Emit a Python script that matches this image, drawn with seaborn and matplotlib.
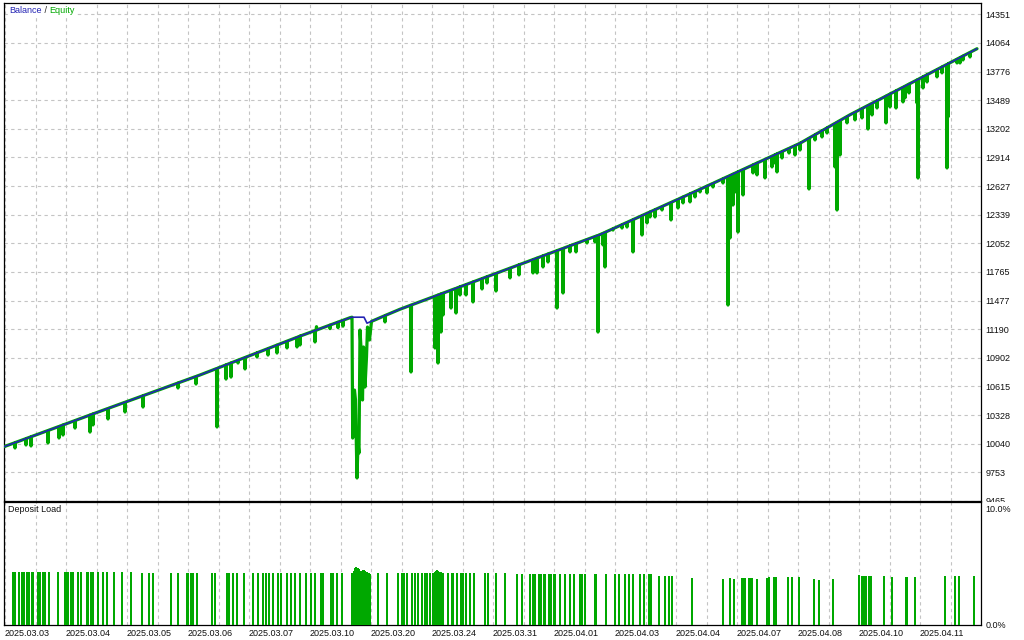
import numpy as np
import pandas as pd
import matplotlib
matplotlib.use("Agg")
import matplotlib.pyplot as plt
import seaborn as sns
from matplotlib.patches import Rectangle
from matplotlib.offsetbox import TextArea, HPacker, AnchoredOffsetbox

# ---------------- data (x = trade sequence position) ----------------
balance_x = [4, 100, 200, 300, 350, 352, 364, 367, 400, 500, 600, 700, 800, 850, 900, 950, 977]
balance_v = [10010, 10365, 10730, 11120, 11305, 11310, 11310, 11250, 11390, 11765,
             12139, 12594, 13056, 13342, 13603, 13864, 14005]

dip_x = [15, 26, 31, 48, 59, 63, 75, 90, 93, 108, 125, 143, 178, 196,
         217, 226, 231, 238, 245, 257, 268, 277, 287, 297, 300, 315, 316.5, 330, 338, 343,
         385, 411, 435, 438, 441, 443, 451, 456, 460, 466, 473, 482, 487, 496, 510, 519,
         533, 537, 543, 548, 557, 563, 570, 576, 587, 595, 598,
         603, 605, 613, 622, 627, 633, 642, 647, 650, 655, 662, 671, 678, 683, 690, 695,
         700, 707, 713, 723, 728, 730, 733, 735, 738, 743, 753, 757, 765, 772, 775, 777,
         782, 789, 795, 800, 809, 815, 822, 827, 835, 837, 840, 847, 855, 862, 868, 872,
         877, 886, 890, 896, 903, 905, 909, 917, 918, 923, 927, 937, 942, 947, 948, 957,
         960, 963, 970]
dip_v = [9997, 10027, 10017, 10047, 10097, 10127, 10197, 10157, 10228, 10288, 10358, 10408, 10599, 10639,
         10208, 10689, 10709, 10850, 10790, 10910, 10930, 10950, 11001, 11011, 11031, 11061, 11215, 11195, 11205, 11220,
         11262, 10760, 11001, 10850, 11161, 11332, 11402, 11352, 11533, 11533, 11463, 11593, 11653, 11573, 11704, 11734,
         11754, 11754, 11814, 11864, 11402, 11553, 11965, 11965, 12055, 12065, 11161,
         12035, 11814, 12185, 12205, 12215, 11965, 12135, 12256, 12316, 12316, 12386, 12286, 12406, 12457, 12467, 12517,
         12567, 12557, 12617, 12657, 11432, 12105, 12436, 12567, 12165, 12537, 12758, 12738, 12708, 12818, 12858, 12768,
         12908, 12958, 12938, 12988, 12597, 13089, 13119, 13159, 12818, 12386, 12938, 13260, 13290, 13310, 13199, 13340,
         13410, 13260, 13420, 13410, 13471, 13511, 13561, 13460, 12707, 13611, 13671, 13722, 13762, 12808, 13320, 13862,
         13862, 13892, 13922]

# drawdown cluster around 2025.03.10
cluster_x = [352.0, 352.7, 353.5, 354.5, 355.5, 357.0, 358.0, 359.0, 360.0, 361.0,
             362.5, 363.5, 365.0, 366.5, 367.5, 369.5, 371.5]
cluster_v = [11310, 10097, 10529, 10579, 10479, 9696, 10047, 9946, 11181, 11001,
             10479, 11011, 10609, 10910, 11211, 11081, 11268]

load_x = [12.7, 15, 19.3, 21.7, 24, 26.7, 29.3, 31.7, 33.3, 38.3, 40, 42.7, 45, 49.3, 58.3, 65,
          66.7, 68.3, 71, 73.3, 77.7, 80.7, 86.7, 88.3, 90.7, 93.3, 98.3, 102.7, 107.3, 114.3,
          121.7, 130.7,
          141.7, 149, 152.7, 170.7, 178.3, 186.7, 188.3, 190.7, 193.3, 196.7, 211.7, 215, 226.7,
          229.3, 232.7, 236.7, 244.3, 252.7, 257.7, 263.3, 266, 269.3, 272.7, 277.7, 281, 286.7,
          291, 295, 300, 306, 310.7, 315, 321, 323.3, 330.7, 333.3, 336.7, 341.7, 351.7,
          354, 355, 356, 357, 358, 359, 360, 361, 362, 363, 364, 365, 366, 367, 368, 369, 370,
          377.7, 386.7, 398.3, 401.7, 404, 406.7, 411.7, 415, 418.3, 421.7, 425, 427.3, 430, 432.7,
          435, 436, 437, 438, 439, 440, 441, 442, 443,
          448.3, 451.7, 453.3, 456.7, 461, 463.3, 466, 470, 474, 485, 488.3, 496, 505,
          517, 522, 530.3, 532.7, 534.7, 538.7, 541.3, 543.7, 545.3, 549.3, 551.3, 553.7, 555.3,
          560.3, 564.7, 570.3, 573.7, 580.3, 582, 585.3, 594.7, 596, 606, 614.7, 618.7, 624.7,
          629.3, 632.7, 639.7, 643.7, 648.7, 651.3, 658.7, 664.7, 668.7, 672,
          692, 722.7, 730.3, 733.7, 742, 743.7, 745.3, 749, 750, 751, 752, 757, 767, 769.3,
          774, 775, 776, 788, 792, 798.7, 813.7, 819.3, 832.7, 858.7, 862, 863.7, 866, 869, 870,
          871, 883.7, 892, 905.5, 906.5, 907.5, 914.7, 945.3, 954.7, 958.7, 973.7]
load_v = [4.6] * 32 + [4.5] * 39 + \
         [4.66, 4.9, 5.03, 4.95, 4.95, 4.8, 4.66, 4.55, 4.66, 4.7, 4.7, 4.66, 4.6, 4.55, 4.5, 4.45, 4.4] + \
         [4.45] * 14 + \
         [4.6, 4.65, 4.75, 4.65, 4.6, 4.6, 4.55, 4.5, 4.45] + \
         [4.45] * 13 + \
         [4.4] * 32 + [4.25] * 4 + \
         [4.05, 3.95, 4.05, 3.97, 4.02, 4.02, 4.02, 4.02, 4.02, 4.02, 4.02, 4.0, 4.08, 4.1,
          4.1, 4.1, 4.1, 4.11, 4.11, 4.11, 3.94, 3.9, 3.94, 4.3, 4.22, 4.22, 4.22, 4.22, 4.22,
          4.22, 4.22, 4.15, 4.17, 4.17, 4.17, 4.15, 4.2, 4.2, 4.2, 4.2]

date_labels = ["2025.03.03", "2025.03.04", "2025.03.05", "2025.03.06", "2025.03.07",
               "2025.03.10", "2025.03.20", "2025.03.24", "2025.03.31", "2025.04.01",
               "2025.04.03", "2025.04.04", "2025.04.07", "2025.04.08", "2025.04.10",
               "2025.04.11"]
price_ticks = [9465, 9753, 10040, 10328, 10615, 10902, 11190, 11477, 11765, 12052,
               12339, 12627, 12914, 13202, 13489, 13776, 14064, 14351]
load_ticks = [0, 10]
load_tick_labels = ["0.0%", "10.0%"]

# ---------------- style ----------------
sns.set_style("white")
plt.rcParams['font.family'] = ['Liberation Sans', 'DejaVu Sans']
BLUE = '#2424b4'
GREEN = '#00a800'
GRID = '#c4c4c4'
FS = 6.5

W, H = 1024, 640
fig = plt.figure(figsize=(W / 100, H / 100), dpi=100)
fig.patch.set_facecolor('white')
L, R = 4 / W, 981 / W
ax = fig.add_axes([L, 1 - 501 / H, R - L, (501 - 3) / H], zorder=0)
ax2 = fig.add_axes([L, 1 - 625 / H, R - L, (625 - 502) / H], zorder=2)

# ---------------- equity series ----------------
bx = np.array(balance_x, float)
bv = np.array(balance_v, float)
c0, c1 = min(cluster_x), max(cluster_x)
pts = [(x, v) for x, v in zip(bx, bv) if not (c0 <= x <= c1)]
for x, v in zip(dip_x, dip_v):
    for dx in (-0.5, 0.5):
        pts.append((x + dx, float(np.interp(x + dx, bx, bv))))
    pts.append((x, v))
pts += list(zip(cluster_x, cluster_v))
pts.sort(key=lambda p: p[0])
eq = pd.DataFrame(pts, columns=['x', 'v'])
bal = pd.DataFrame({'x': bx, 'v': bv})

sns.lineplot(data=eq, x='x', y='v', ax=ax, color=GREEN, lw=2.3, estimator=None, sort=False, zorder=3)
sns.lineplot(data=bal, x='x', y='v', ax=ax, color=BLUE, lw=1.2, estimator=None, sort=False, zorder=4)

ax.set_xlim(4, 981)
ax.set_ylim(9465, 14464)
ax.set_xlabel('')
ax.set_ylabel('')

step = 61
major = [5 + step * i for i in range(len(date_labels))]
minor = [5 + step * i + step / 2 for i in range(len(date_labels))]

for a in (ax, ax2):
    a.set_xlim(4, 981)
    a.set_xticks(major)
    a.set_xticks(minor, minor=True)
    a.grid(True, which='both', axis='x', color=GRID, ls=(0, (3, 3)), lw=0.8)
    for s in a.spines.values():
        s.set_color('black')
        s.set_linewidth(0.9)
    a.yaxis.tick_right()
    a.set_facecolor('white')

ax.set_yticks(price_ticks)
ax.set_yticklabels([str(t) for t in price_ticks])
ax.grid(True, which='major', axis='y', color=GRID, ls=(0, (3, 3)), lw=0.8)
ax.tick_params(axis='y', length=0, pad=3, labelsize=FS, labelcolor='#101010')
ax.tick_params(axis='x', which='both', length=0, labelbottom=False)

# deposit load
ax2.bar(load_x, load_v, width=1.9, color=GREEN, linewidth=0, zorder=3)
ax2.set_ylim(0, 10.6)
ax2.set_yticks(load_ticks)
ax2.set_yticklabels(load_tick_labels)
ax2.tick_params(axis='y', length=0, pad=3, labelsize=FS, labelcolor='#101010')
ax2.set_xticklabels(date_labels)
ax2.tick_params(axis='x', which='major', length=3, direction='out', pad=0.2, labelsize=FS,
                labelcolor='#101010', color='black')
ax2.tick_params(axis='x', which='minor', length=0)
for lab in ax2.get_xticklabels():
    lab.set_ha('left')
ax2.set_xlabel('')
ax2.set_ylabel('')

# hide the lower part of the bottom price label under the load panel
fig.add_artist(Rectangle((R, 0), 1 - R, 1 - 502 / H, transform=fig.transFigure,
                         facecolor='white', edgecolor='none', zorder=1))

# titles
parts = [TextArea("Balance", textprops=dict(color=BLUE, size=FS)),
         TextArea(" / ", textprops=dict(color='#202020', size=FS)),
         TextArea("Equity", textprops=dict(color=GREEN, size=FS))]
box = HPacker(children=parts, align="baseline", pad=0, sep=0)
anch = AnchoredOffsetbox(loc='upper left', child=box, pad=0.1, frameon=True,
                         bbox_to_anchor=(8 / W, 1 - 5 / H), bbox_transform=fig.transFigure,
                         borderpad=0)
anch.patch.set_facecolor('white')
anch.patch.set_edgecolor('none')
anch.set_zorder(6)
ax.add_artist(anch)

ax2.text(8 / W, 1 - 505 / H, "Deposit Load", transform=fig.transFigure, ha='left', va='top',
         fontsize=FS, color='#101010', zorder=6,
         bbox=dict(facecolor='white', edgecolor='none', pad=0.5))

fig.savefig('out.png', dpi=100, facecolor='white')
